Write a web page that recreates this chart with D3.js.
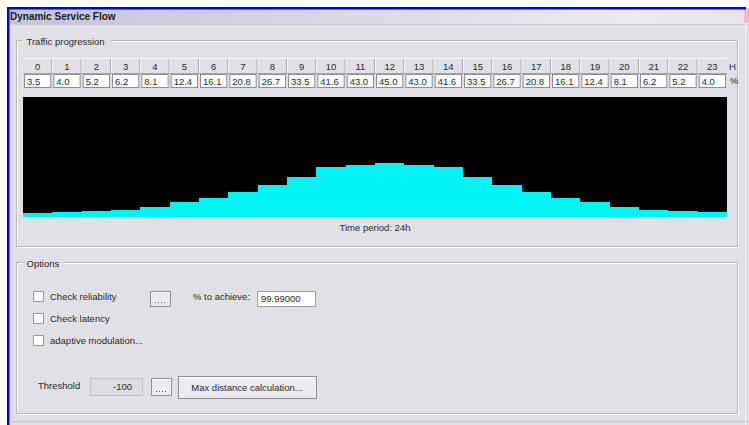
<!DOCTYPE html>
<html>
<head>
<meta charset="utf-8">
<script src="https://cdn.jsdelivr.net/npm/d3@7"></script>
<style>
  body { margin: 0; background: #fff; }
  svg { display: block; font-family: "Liberation Sans", "DejaVu Sans", sans-serif; }
  .lbl { font-size: 9.5px; fill: #2a2a2a; }
</style>
</head>
<body>
<svg id="graph" width="749" height="425"></svg>
<script>
// hours of the day and traffic share (%) per hour
var hours = d3.range(0, 24);
var traffic = [3.5, 4.0, 5.2, 6.2, 8.1, 12.4, 16.1, 20.8, 26.7, 33.5, 41.6, 43.0,
               45.0, 43.0, 41.6, 33.5, 26.7, 20.8, 16.1, 12.4, 8.1, 6.2, 5.2, 4.0];
var yDomain = [0, 100];

var svg = d3.select("#graph");
var bg = "#e1e0e6";

// window frame
var defs = svg.append("defs");
var grad = defs.append("linearGradient").attr("id", "tb");
grad.append("stop").attr("offset", "0%").attr("stop-color", "#c4c3d8");
grad.append("stop").attr("offset", "85%").attr("stop-color", "#ececf1");
grad.append("stop").attr("offset", "100%").attr("stop-color", "#e8e4ea");

svg.append("rect").attr("x", 8).attr("y", 8).attr("width", 741).attr("height", 417).attr("fill", bg);
svg.append("rect").attr("x", 9).attr("y", 9).attr("width", 738).attr("height", 15).attr("fill", "url(#tb)");
svg.append("rect").attr("x", 744).attr("y", 9).attr("width", 5).attr("height", 14).attr("fill", "#f0b8c8");
svg.append("line").attr("x1", 9).attr("x2", 749).attr("y1", 24.5).attr("y2", 24.5).attr("stroke", "#cfcfd8");
svg.append("rect").attr("x", 7).attr("y", 7).attr("width", 739).attr("height", 2.5).attr("fill", "#0000ee");
svg.append("rect").attr("x", 7).attr("y", 7).attr("width", 2.5).attr("height", 418).attr("fill", "#0000ee");
svg.append("line").attr("x1", 745.5).attr("x2", 745.5).attr("y1", 24).attr("y2", 425).attr("stroke", "#f4f4f6");
svg.append("line").attr("x1", 9).attr("x2", 749).attr("y1", 421.5).attr("y2", 421.5).attr("stroke", "#c8c8d0");

svg.append("text").attr("x", 10).attr("y", 20).attr("font-size", "10px").attr("font-weight", "bold")
   .attr("fill", "#1a1a2a").text("Dynamic Service Flow");

// etched group box
function groupBox(x, y, w, h, title, tw) {
  var g = svg.append("g");
  g.append("rect").attr("x", x + 1).attr("y", y + 1).attr("width", w).attr("height", h)
   .attr("fill", "none").attr("stroke", "#fbfbfc");
  g.append("rect").attr("x", x).attr("y", y).attr("width", w).attr("height", h)
   .attr("fill", "none").attr("stroke", "#b9b8c0");
  g.append("rect").attr("x", x + 6).attr("y", y - 6).attr("width", tw).attr("height", 12).attr("fill", bg);
  g.append("text").attr("class", "lbl").attr("x", x + 10).attr("y", y + 4).text(title);
}
groupBox(16.5, 40.5, 721, 206, "Traffic progression", 88);
groupBox(16.5, 262.5, 721, 151, "Options", 40);

// scales
var x = d3.scaleBand().domain(hours).range([23, 727]).padding(0);
var y = d3.scaleLinear().domain(yDomain).range([217, 97]);

// header row (hours)
var head = svg.append("g");
head.selectAll("line.sep").data(hours.slice(1)).enter().append("line")
    .attr("x1", function(d) { return x(d) - 0.5; }).attr("x2", function(d) { return x(d) - 0.5; })
    .attr("y1", 59).attr("y2", 73).attr("stroke", "#a8a7b0");
head.selectAll("line.sep2").data(hours.slice(1)).enter().append("line")
    .attr("x1", function(d) { return x(d) + 0.5; }).attr("x2", function(d) { return x(d) + 0.5; })
    .attr("y1", 59).attr("y2", 73).attr("stroke", "#f8f8fa");
head.append("line").attr("x1", 23).attr("x2", 727).attr("y1", 58.5).attr("y2", 58.5).attr("stroke", "#f8f8fa");
head.append("line").attr("x1", 23).attr("x2", 727).attr("y1", 73.5).attr("y2", 73.5).attr("stroke", "#a8a7b0");
head.selectAll("text").data(hours).enter().append("text")
    .attr("class", "lbl")
    .attr("x", function(d) { return x(d) + x.bandwidth() / 2; })
    .attr("y", 70).attr("text-anchor", "middle")
    .text(function(d) { return d; });
svg.append("text").attr("class", "lbl").attr("x", 729).attr("y", 70).text("H");

// value row (traffic %)
var cells = svg.append("g").selectAll("g").data(traffic).enter().append("g")
    .attr("transform", function(d, i) { return "translate(" + x(hours[i]) + ",74)"; });
cells.append("rect").attr("x", 1.5).attr("y", 0.5).attr("width", x.bandwidth() - 3).attr("height", 13)
     .attr("fill", "#fff").attr("stroke", "#8e8d96");
cells.append("text").attr("class", "lbl").attr("x", 4).attr("y", 10.5)
     .text(function(d) { return d.toFixed(1); });
svg.append("text").attr("class", "lbl").attr("x", 730).attr("y", 84).text("%");

// step chart
svg.append("rect").attr("x", 23).attr("y", 97).attr("width", 704).attr("height", 120).attr("fill", "#000");
svg.append("path")
    .datum(traffic.concat([traffic[traffic.length - 1]]))
    .attr("d", d3.area()
        .curve(d3.curveStepAfter)
        .x(function(d, i) { return i < hours.length ? x(hours[i]) : x.range()[1]; })
        .y0(y(0))
        .y1(function(d) { return y(d); }))
    .attr("fill", "#00f4f4")
    .attr("shape-rendering", "crispEdges");

svg.append("text").attr("class", "lbl").attr("x", 375).attr("y", 231).attr("text-anchor", "middle")
   .text("Time period: 24h");

// options controls
function checkbox(cx, cy, label) {
  svg.append("rect").attr("x", cx + 0.5).attr("y", cy - 5.5).attr("width", 10).attr("height", 10)
     .attr("fill", "#fff").attr("stroke", "#9a99a2");
  svg.append("text").attr("class", "lbl").attr("x", cx + 17).attr("y", cy + 3).text(label);
}
function button(bx, by, w, h, label) {
  svg.append("rect").attr("x", bx + 0.5).attr("y", by + 0.5).attr("width", w).attr("height", h)
     .attr("fill", "#ecebf0").attr("stroke", "#8f8e96");
  svg.append("line").attr("x1", bx + 1).attr("x2", bx + w).attr("y1", by + 1.5).attr("y2", by + 1.5).attr("stroke", "#fff");
  if (label) svg.append("text").attr("class", "lbl").attr("x", bx + w / 2).attr("y", by + h / 2 + 3.5)
     .attr("text-anchor", "middle").text(label);
  else svg.append("line").attr("x1", bx + 5).attr("x2", bx + w - 5).attr("y1", by + h - 3.5).attr("y2", by + h - 3.5)
     .attr("stroke", "#555").attr("stroke-dasharray", "1,2");
}
checkbox(33, 297, "Check reliability");
checkbox(33, 319, "Check latency");
checkbox(33, 341, "adaptive modulation...");
button(150, 291, 20, 15, null);
svg.append("text").attr("class", "lbl").attr("x", 193).attr("y", 300).text("% to achieve:");
svg.append("rect").attr("x", 257.5).attr("y", 291.5).attr("width", 58).attr("height", 15)
   .attr("fill", "#fff").attr("stroke", "#9e9da5");
svg.append("text").attr("class", "lbl").attr("x", 261).attr("y", 302).text("99.99000");

svg.append("text").attr("class", "lbl").attr("x", 38).attr("y", 389).text("Threshold");
svg.append("rect").attr("x", 90.5).attr("y", 378.5).attr("width", 52).attr("height", 17)
   .attr("fill", "#dddce2").attr("stroke", "#c4c3ca");
svg.append("text").attr("class", "lbl").attr("x", 132).attr("y", 390).attr("text-anchor", "end").text("-100");
button(151, 378, 20, 17, null);
button(178, 376, 138, 22, "Max distance calculation...");
</script>
</body>
</html>
